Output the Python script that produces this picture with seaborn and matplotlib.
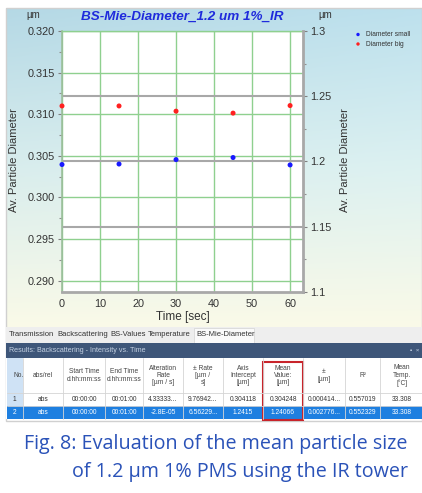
import numpy as np
import pandas as pd
import matplotlib
matplotlib.use("Agg")
import matplotlib.pyplot as plt
import matplotlib.transforms as mtransforms
import seaborn as sns
from matplotlib.patches import Rectangle

# ---------------- data ----------------
time_s = [0, 15, 30, 45, 60]
diameter_small = [0.30396, 0.30402, 0.30455, 0.30480, 0.30391]
diameter_big = [1.2425, 1.2425, 1.2385, 1.2370, 1.2428]

left_ticks = [0.290, 0.295, 0.300, 0.305, 0.310, 0.315, 0.320]
right_ticks = [1.1, 1.15, 1.2, 1.25, 1.3]
right_tick_labels = ["1.1", "1.15", "1.2", "1.25", "1.3"]
x_ticks = [0, 10, 20, 30, 40, 50, 60]

title = "BS-Mie-Diameter_1.2 um 1%_IR"
tabs = ["Transmission", "Backscattering", "BS-Values", "Temperature", "BS-Mie-Diameter"]
table_header = ["No.", "abs/rel", "Start Time\nd.hh:mm:ss", "End Time\nd.hh:mm:ss",
                "Alteration\nRate\n[µm / s]", "± Rate\n[µm /\ns]", "Axis\nIntercept\n[µm]",
                "Mean\nValue:\n[µm]", "±\n[µm]", "R²", "Mean\nTemp.\n[°C]"]
table_row1 = ["1", "abs", "00:00:00", "00:01:00", "4.33333...", "9.76942...", "0.304118",
              "0.304248", "0.000414...", "0.557019", "33.308"]
table_row2 = ["2", "abs", "00:00:00", "00:01:00", "-2.8E-05", "6.56229...", "1.2415",
              "1.24066", "0.002776...", "0.552329", "33.308"]
caption = ["Fig. 8: Evaluation of the mean particle size",
           "of 1.2 µm 1% PMS using the IR tower"]

# ---------------- figure ----------------
sns.set_style("white")
plt.rcParams["font.family"] = ["Liberation Sans", "DejaVu Sans"]
W, H = 422, 493
fig = plt.figure(figsize=(W / 100, H / 100), dpi=100)
fig.patch.set_facecolor("white")

def fbox(x0, y0, x1, y1):
    return [x0 / W, 1 - y1 / H, (x1 - x0) / W, (y1 - y0) / H]

# background gradient of the screenshot panel
bg = fig.add_axes(fbox(6, 8, W, 327))
bg.set_axis_off()
top = np.array([0.71, 0.85, 0.90])
mid = np.array([0.85, 0.93, 0.93])
bot = np.array([0.98, 0.98, 0.91])
n = 200
t = np.linspace(0, 1, n)[:, None]
col = np.where(t < 0.5, top + (mid - top) * (t / 0.5), mid + (bot - mid) * ((t - 0.5) / 0.5))
grad = np.repeat(col[:, None, :], 50, axis=1)
hx = np.linspace(0, 1, 50)[None, :, None]
grad = np.clip(grad + 0.03 * hx * (1 - t[:, :, None]), 0, 1)
bg.imshow(grad, aspect="auto", extent=[0, 1, 0, 1])
bg.set_xlim(0, 1); bg.set_ylim(0, 1)

# main axes
ax = fig.add_axes(fbox(62, 31, 303, 291.7))
ax.set_facecolor("white")
ax2 = ax.twinx()

ax.set_xlim(0, 63.4)
ax.set_ylim(0.28868, 0.320)
ax2.set_ylim(1.1, 1.3)

ax.grid(True, which="major", color="#8fd08f", linewidth=1.0, zorder=0)
ax.set_axisbelow(True)
# right-axis grid lines drawn in the left axes (below the blue points)
blend = mtransforms.blended_transform_factory(ax.transAxes, ax2.transData)
for v in right_ticks[1:-1]:
    ax.plot([0, 1], [v, v], transform=blend, color="#a8a8a8", linewidth=1.5, zorder=1)

df = pd.DataFrame({"time": time_s, "small": diameter_small, "big": diameter_big})
sns.scatterplot(data=df, x="time", y="small", ax=ax, color="#1818ff", s=13,
                edgecolor="none", legend=False, zorder=5, clip_on=False)
sns.scatterplot(data=df, x="time", y="big", ax=ax2, color="#ff2020", s=13,
                edgecolor="none", legend=False, zorder=5, clip_on=False)

ax.set_xlim(0, 63.4)
ax.set_ylim(0.28868, 0.320)
ax2.set_ylim(1.1, 1.3)

ax.set_xticks(x_ticks)
ax.set_xticks(np.arange(5, 65, 10), minor=True)
ax.set_yticks(left_ticks)
ax.set_yticklabels([f"{v:.3f}" for v in left_ticks])
ax.set_yticks(np.arange(0.2925, 0.320, 0.005), minor=True)
ax2.set_yticks(right_ticks)
ax2.set_yticklabels(right_tick_labels)
ax2.set_yticks([1.125, 1.175, 1.225, 1.275], minor=True)
ax2.grid(False)

for a in (ax, ax2):
    a.tick_params(axis="both", which="major", length=3, width=0.8, color="#808080",
                  labelsize=7.8, labelcolor="#333333", pad=2)
    a.tick_params(axis="both", which="minor", length=2, width=0.8, color="#909090")

ax.set_xlabel("Time [sec]", fontsize=8.5, color="#333333", labelpad=2)
ax.set_ylabel("")
ax2.set_ylabel("")

for a in (ax, ax2):
    for s in a.spines.values():
        s.set_visible(False)
ax2.spines["right"].set_visible(True)
ax2.spines["right"].set_color("#a8a8a8")
ax2.spines["right"].set_linewidth(2)
ax.spines["bottom"].set_visible(True)
ax.spines["bottom"].set_color("#a8a8a8")
ax.spines["bottom"].set_linewidth(2)
ax.spines["left"].set_visible(True)
ax.spines["left"].set_color("#9cbf9c")
ax.spines["left"].set_linewidth(1.2)
ax.spines["top"].set_visible(True)
ax.spines["top"].set_color("#8fd08f")
ax.spines["top"].set_linewidth(1.0)

# overlay axes in pixel coordinates for texts and table
ov = fig.add_axes([0, 0, 1, 1])
ov.set_zorder(10)
ov.set_xlim(0, W); ov.set_ylim(H, 0)
ov.set_axis_off()
ov.patch.set_alpha(0)

# panel border
ov.add_patch(Rectangle((6, 8), W - 6, 413, fill=False, edgecolor="#d0d0d0", linewidth=1))

ov.text(182, 17, title, ha="center", va="center", fontsize=9.7, fontweight="bold",
        fontstyle="italic", color="#1f2bdc")
ov.text(33, 15, "µm", ha="center", va="center", fontsize=7, color="#333333")
ov.text(325, 15, "µm", ha="center", va="center", fontsize=7, color="#333333")
ov.text(14, 160, "Av. Particle Diameter", rotation=90, ha="center", va="center",
        fontsize=8, color="#333333")
ov.text(345, 160, "Av. Particle Diameter", rotation=90, ha="center", va="center",
        fontsize=8, color="#333333")

# legend
ov.scatter([358], [34.5], s=6, color="#1818ff", edgecolor="none")
ov.scatter([358], [44], s=6, color="#ff2020", edgecolor="none")
ov.text(366, 34.5, "Diameter small", ha="left", va="center", fontsize=4.8, color="#333333")
ov.text(366, 44, "Diameter big", ha="left", va="center", fontsize=4.8, color="#333333")

# tab strip
ov.add_patch(Rectangle((6, 327), W - 6, 16, facecolor="#eeeeee", edgecolor="none"))
ov.add_patch(Rectangle((194, 328), 60, 15, facecolor="#fafafa", edgecolor="#d8d8d8", linewidth=0.6))
tab_x = [9, 57, 110, 148, 196]
for tx, tl in zip(tab_x, tabs):
    ov.text(tx, 335, tl, ha="left", va="center", fontsize=5.5, color="#333333")

# dark results bar
ov.add_patch(Rectangle((6, 343), W - 6, 15, facecolor="#3e5679", edgecolor="none"))
ov.text(9, 350.5, "Results: Backscattering - Intensity vs. Time", ha="left", va="center",
        fontsize=5.1, color="#c5d2e3")
ov.text(410, 350.5, "▪  ×", ha="left", va="center", fontsize=4.5, color="#c5d2e3")

# table
col_edges = [7, 23, 63, 105, 143, 183, 223, 263, 303, 345, 380, 424]
y_head = (358, 393)
y_r1 = (393, 405.5)
y_r2 = (405.5, 418.5)
ov.add_patch(Rectangle((6, 358), W - 6, 61, facecolor="white", edgecolor="none"))
ov.add_patch(Rectangle((7, 358), 16, 47.5, facecolor="#cfe2f5", edgecolor="none"))
ov.add_patch(Rectangle((7, y_r2[0]), W - 7, y_r2[1] - y_r2[0], facecolor="#1e7fe0", edgecolor="none"))
for xe in col_edges[1:-1]:
    ov.plot([xe, xe], [358, 418.5], color="#d5d5d5", linewidth=0.6)
for ye in (393, 405.5):
    ov.plot([7, W], [ye, ye], color="#d5d5d5", linewidth=0.6)
for i in range(len(col_edges) - 1):
    cx = (col_edges[i] + col_edges[i + 1]) / 2
    if i == 0:
        cx = 13
    ov.text(cx, (y_head[0] + y_head[1]) / 2, table_header[i], ha="center" if i else "left",
            va="center", fontsize=4.8, color="#444444", linespacing=1.1)
    ov.text(cx, (y_r1[0] + y_r1[1]) / 2, table_row1[i], ha="center" if i else "left",
            va="center", fontsize=4.8, color="#333333")
    ov.text(cx, (y_r2[0] + y_r2[1]) / 2, table_row2[i], ha="center" if i else "left",
            va="center", fontsize=4.8, color="white")
ov.add_patch(Rectangle((263, 362), 40, 58, fill=False, edgecolor="#c8242b", linewidth=1.5))

# caption
cap_font = ["Open Sans", "DejaVu Sans"]
ov.text(408, 444, caption[0], ha="right", va="center", fontsize=14.2, color="#2a52b8",
        family=cap_font)
ov.text(408, 472, caption[1], ha="right", va="center", fontsize=14.2, color="#2a52b8",
        family=cap_font)

fig.savefig("out.png", dpi=100)
